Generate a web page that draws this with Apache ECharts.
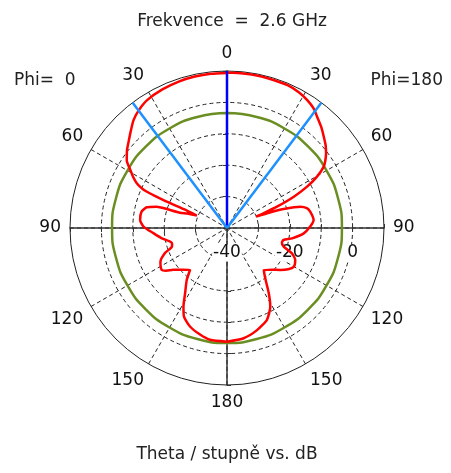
<!DOCTYPE html>
<html><head><meta charset="utf-8">
<script src="https://cdn.jsdelivr.net/npm/echarts@6/dist/echarts.min.js"></script>
<style>html,body{margin:0;padding:0;background:#fff}#c{width:451px;height:473px}</style>
</head><body><div id="c"></div>
<script>
// ---- text ----
const titleText = 'Frekvence  =  2.6 GHz';
const xLabelText = 'Theta / stupně vs. dB';
const phiLeftText = 'Phi=  0';
const phiRightText = 'Phi=180';

// ---- axes ----
const radiusMin = -40, radiusMax = 10, radiusStep = 10;
const radiusLabelValues = [-40, -20, 0];
const angleStep = 30;

// ---- data: Phi = 0 (left half), theta in degrees, gain in dB ----
const thetaPhi0 = [0, 6, 12, 18, 25, 32, 37, 41, 45, 48, 52, 56, 59, 61.5, 63.7, 65.2, 65.8, 66.2, 66.4, 66.5, 67.5, 70, 72, 72.5, 73.1, 75.5, 79.2, 84.7, 89, 94, 99, 103.5, 106, 108.6, 112, 117, 122.7, 125, 128, 133, 138.6, 142.2, 147.3, 151, 154, 159.4, 165.8, 171.4, 180];
const dbPhi0    = [9.4, 9.4, 9.3, 9.1, 8.7, 8.0, 6.8, 5.4, 3.4, 2.0, 0.4, -1.5, -4.1, -6.0, -8.0, -10.5, -13, -17, -21, -25, -29.6, -26.5, -24.3, -19.9, -16.6, -13.6, -12.3, -12.2, -13.4, -16.5, -19.0, -21.4, -21.8, -21.5, -18.7, -16.2, -15.3, -16.3, -18.4, -20.5, -22.2, -19.1, -15.3, -11.4, -8.7, -6.5, -5.0, -4.0, -3.9];

// ---- data: Phi = 180 (right half) ----
const thetaPhi180 = [0, 6, 12, 18, 23, 28, 32, 36, 39, 43, 46.6, 50, 53, 55.5, 57.6, 60.3, 62.7, 64.9, 66.9, 68, 68.5, 70, 71.5, 73.8, 76, 78.9, 84.7, 89, 94, 99, 102, 105, 108.2, 111.3, 115.1, 120.1, 124, 128.2, 133, 138.8, 142.7, 147.4, 151.2, 156.5, 163.6, 171.4, 180];
const dbPhi180    = [9.5, 9.5, 9.5, 9.4, 9.4, 8.9, 8.1, 7.0, 5.6, 4.0, 2.4, 1.0, -0.5, -2.0, -3.5, -7.0, -11.3, -16.5, -22.7, -27.5, -30, -25.5, -21, -15.7, -13.8, -13.0, -12.3, -13.5, -15.5, -19.0, -21.6, -21.9, -21.0, -17.8, -16.0, -15.4, -16.5, -18.4, -20.5, -22.2, -19.9, -15.3, -11.4, -8.1, -6.1, -4.5, -3.8];

// ---- reference level (green circle) and beam markers ----
const refLevelDb = -3.4;
const refAngles = [0, 15, 30, 45, 60, 75, 90, 105, 120, 135, 150, 165, 180, 195, 210, 225, 240, 255, 270, 285, 300, 315, 330, 345, 360];
const beamAxisAngle = [0];
const beamEdgeAngles = [37, 323];

// ---- build ----
const FONT = 'DejaVu Sans';
const CENTER = [227, 228];
const RADIUS = 157;

const redData = [];
thetaPhi180.forEach((t, i) => redData.push([dbPhi180[i], t]));
for (let i = thetaPhi0.length - 1; i >= 0; i--) redData.push([dbPhi0[i], 360 - thetaPhi0[i]]);

const greenData = refAngles.map(a => [refLevelDb, a]);

const solidAxis = { show: true, lineStyle: { color: '#333', width: 1.5 } };
const tickStyle = { show: true, length: 4, lineStyle: { color: '#333', width: 1 } };

const starts = [90, 0, 180, 270];
const polar = starts.map(() => ({ center: CENTER, radius: RADIUS }));
const angleAxis = starts.map((s, i) => {
  if (i === 0) {
    return {
      polarIndex: 0, type: 'value', min: 0, max: 360, interval: angleStep,
      startAngle: 90, clockwise: true,
      axisLine: { show: true, lineStyle: { color: '#222', width: 1 } },
      axisTick: { show: false },
      axisLabel: {
        margin: 9, fontFamily: FONT, fontSize: 17, color: '#111',
        formatter: v => { if (v >= 360) return ''; return String(v <= 180 ? v : 360 - v); }
      },
      splitLine: { show: true, lineStyle: { color: '#222', width: 1, type: [4, 3] } }
    };
  }
  return {
    polarIndex: i, type: 'value', min: 0, max: 360, startAngle: s, clockwise: true,
    axisLine: { show: false }, axisTick: { show: false }, axisLabel: { show: false }, splitLine: { show: false }
  };
});
const radiusAxis = starts.map((s, i) => ({
  polarIndex: i, type: 'value', min: radiusMin, max: radiusMax, interval: radiusStep,
  axisLine: solidAxis,
  axisTick: tickStyle,
  axisLabel: i === 1 ? {
    show: true, margin: -25, verticalAlign: 'middle', align: 'center',
    fontFamily: FONT, fontSize: 17, color: '#111',
    backgroundColor: '#fff', padding: [0, 1],
    formatter: v => radiusLabelValues.indexOf(v) >= 0 ? String(v) : ''
  } : { show: false },
  splitLine: i === 0 ? { show: true, lineStyle: { type: [4, 3], width: 1,
    color: ['rgba(0,0,0,0)', '#222', '#222', '#222', '#222', 'rgba(0,0,0,0)'] } } : { show: false }
}));

const lineBase = { type: 'line', coordinateSystem: 'polar', polarIndex: 0, showSymbol: false, symbol: 'none', silent: true, animation: false };

const series = [
  Object.assign({}, lineBase, { name: 'ref', data: greenData, smooth: true, lineStyle: { color: '#6b8e23', width: 2.5 }, z: 3 }),
  Object.assign({}, lineBase, { name: 'pattern', data: redData, smooth: 0.2, lineStyle: { color: '#ff0000', width: 2.5 }, z: 4 }),
  Object.assign({}, lineBase, { name: 'beam', data: [[radiusMin, beamAxisAngle[0]], [radiusMax, beamAxisAngle[0]]], lineStyle: { color: '#0000ff', width: 2.5 }, z: 5 }),
].concat(beamEdgeAngles.map(a => Object.assign({}, lineBase, {
  name: 'edge' + a, data: [[radiusMin, a], [radiusMax, a]], lineStyle: { color: '#1e90ff', width: 2.5 }, z: 5
})));

const chart = echarts.init(document.getElementById('c'));
chart.setOption({
  backgroundColor: '#fff',
  animation: false,
  polar, angleAxis, radiusAxis, series,
  graphic: [
    { type: 'text', x: 232, y: 21.5, style: { text: titleText, fontFamily: FONT, fontSize: 17, fill: '#222', align: 'center', verticalAlign: 'middle' } },
    { type: 'text', x: 227, y: 455, style: { text: xLabelText, fontFamily: FONT, fontSize: 17, fill: '#222', align: 'center', verticalAlign: 'middle' } },
    { type: 'text', x: 14, y: 80.5, style: { text: phiLeftText, fontFamily: FONT, fontSize: 17, fill: '#222', align: 'left', verticalAlign: 'middle' } },
    { type: 'text', x: 443, y: 80.5, style: { text: phiRightText, fontFamily: FONT, fontSize: 17, fill: '#222', align: 'right', verticalAlign: 'middle' } }
  ]
});
</script>
</body></html>
